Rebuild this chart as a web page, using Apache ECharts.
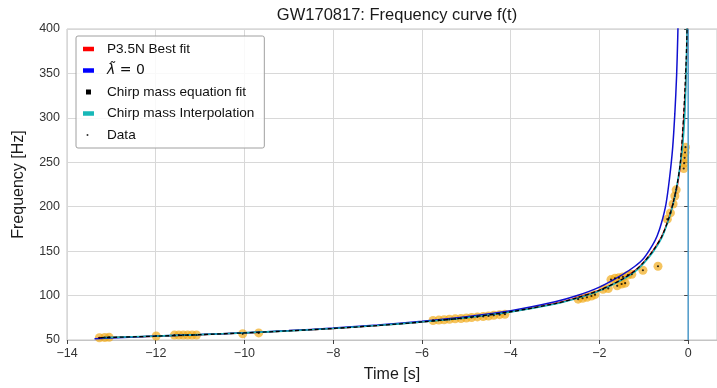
<!DOCTYPE html>
<html>
<head>
<meta charset="utf-8">
<script src="https://cdn.jsdelivr.net/npm/echarts@6/dist/echarts.min.js"></script>
<style>html,body{margin:0;padding:0;background:#fff}#c{width:717px;height:388px}</style>
</head>
<body>
<div id="c"></div>
<script>
// ---- data ----
const xTicks = [-14, -12, -10, -8, -6, -4, -2, 0];
const yTicks = [50, 100, 150, 200, 250, 300, 350, 400];

const bestFitT = [-13.3, -12, -11, -10, -9, -8, -7, -6, -5, -4, -3, -2.5, -2, -1.5, -1.2, -1, -0.8, -0.6, -0.45, -0.35, -0.24, -0.17, -0.12, -0.09, -0.06, -0.035, -0.015, -0.008];
const bestFitF = [52.4, 54.3, 56, 58, 60.3, 63, 66.3, 70.3, 75.2, 81.8, 91, 97.5, 106, 118, 128, 137.6, 150, 166, 185, 202, 225, 250, 280, 305, 335, 365, 400, 420];

const lambdaT = [-13.38, -12, -11, -10, -9, -8, -7, -6, -5, -4, -3, -2.5, -2, -1.5, -1.2, -1, -0.8, -0.7, -0.6, -0.5, -0.42, -0.35, -0.3, -0.26, -0.235, -0.222];
const lambdaF = [51.3, 54.4, 56.2, 58.2, 60.6, 63.4, 66.9, 71.1, 76.2, 83, 93, 100, 109.5, 123, 133, 142, 157, 167, 182, 203, 232, 266, 305, 348, 390, 420];

const chirpFitT = [-13.25, -12, -11, -10, -9, -8, -7, -6, -5, -4, -3, -2.5, -2, -1.5, -1.2, -1, -0.8, -0.6, -0.45, -0.35, -0.25, -0.18, -0.13, -0.1, -0.07, -0.045, -0.025, -0.018];
const chirpFitF = [52.6, 54.3, 56, 58, 60.3, 63, 66.3, 70.3, 75.2, 81.8, 91, 97.5, 106, 118, 128, 137.6, 150, 166, 185, 202, 225, 248, 280, 305, 335, 365, 400, 420];

const interpT = [-13.2, -12, -11, -10, -9, -8, -7, -6, -5, -4, -3, -2.5, -2, -1.5, -1.2, -1, -0.8, -0.6, -0.45, -0.35, -0.27, -0.2, -0.13, -0.08, -0.05, -0.03, -0.02];
const interpF = [52.7, 54.4, 56.1, 58, 60.3, 63, 66.3, 70.2, 75, 81.5, 90.5, 97, 105.5, 117.5, 127, 136.5, 148.5, 164.5, 184, 201, 219, 240, 266, 300, 340, 385, 420];

const dataT = [-13.27, -13.15, -13.05, -11.99, -11.58, -11.48, -11.38, -11.28, -11.18, -11.08, -10.04, -9.68,
  -5.75, -5.62, -5.5, -5.38, -5.25, -5.12, -5.0, -4.88, -4.75, -4.62, -4.5, -4.38, -4.25, -4.13,
  -2.48, -2.38, -2.28, -2.18, -2.1, -1.92, -1.8,
  -1.74, -1.65, -1.56, -1.47, -1.6, -1.5, -1.42, -1.36, -1.27, -1.02, -0.68,
  -0.47, -0.4, -0.34, -0.3, -0.27,
  -0.1, -0.09, -0.08, -0.07, -0.06];
const dataF = [52.5, 52.8, 53, 54.5, 55.5, 55.5, 55.5, 55.5, 55.6, 55.6, 57, 58,
  72, 72.4, 72.8, 73.3, 73.8, 74.2, 74.8, 75.3, 76, 76.5, 77, 77.8, 78.5, 79,
  96, 97, 98, 99.5, 101, 107, 108,
  118, 119.5, 120, 121, 111, 113, 114, 123, 124, 128.5, 133,
  186, 193, 203, 212, 219,
  243, 249, 255, 261, 267];

const zeroLineT = [0, 0];
const zeroLineF = [50, 400];

const zip = (a, b) => a.map((v, i) => [v, b[i]]);
const FONT = 'Liberation Sans';
const minus = v => String(v).replace('-', '\u2212');

// legend icons: a 22x8 box with a smaller visible mark inside
const corners = 'M0,0h0.01v0.01h-0.01z M22,8h0.01v0.01h-0.01z ';
const patchIcon = 'path://' + corners + 'M3,1.7h11v4.6h-11z';
const squareIcon = 'path://' + corners + 'M6,1.6h5v4.8h-5z';
const dotIcon = 'path://' + corners + 'M7.5,4m-1,0a1,1 0 1,0 2,0a1,1 0 1,0 -2,0z';

const chart = echarts.init(document.getElementById('c'), null, {renderer: 'canvas'});
chart.setOption({
  animation: false,
  backgroundColor: '#fff',
  title: {
    text: 'GW170817: Frequency curve f(t)',
    left: 392, top: 2, textAlign: 'center',
    textStyle: {fontFamily: FONT, fontSize: 16.5, fontWeight: 'normal', color: '#1a1a1a'}
  },
  grid: {left: 67, right: 0, top: 29, bottom: 42, show: true, borderColor: '#c4c4c4', borderWidth: 1},
  legend: {
    orient: 'vertical', left: 76, top: 36,
    itemWidth: 22, itemHeight: 8, itemGap: 7.5,
    padding: [6, 10, 6, 4],
    borderColor: '#a0a0a0', borderWidth: 1, borderRadius: 2,
    backgroundColor: 'rgba(255,255,255,0.85)',
    textStyle: {fontFamily: FONT, fontSize: 13.6, color: '#111',
      rich: {i: {fontFamily: 'DejaVu Sans', fontStyle: 'italic', fontSize: 14, color: '#111'},
             n: {fontFamily: 'DejaVu Sans', fontSize: 14, color: '#111'}}},
    formatter: name => name === 'λ̃ = 0' ? '{i|λ̃}{n| = 0}' : name,
    data: [
      {name: 'P3.5N Best fit', icon: patchIcon, itemStyle: {color: '#ff0000', borderWidth: 0}},
      {name: 'λ̃ = 0', icon: patchIcon, itemStyle: {color: '#0000ff', borderWidth: 0}},
      {name: 'Chirp mass equation fit', icon: squareIcon, itemStyle: {color: '#000000', borderWidth: 0}},
      {name: 'Chirp mass Interpolation', icon: patchIcon, itemStyle: {color: '#17b8b8', borderWidth: 0}},
      {name: 'Data', icon: dotIcon, itemStyle: {color: '#000000', borderWidth: 0}}
    ]
  },
  xAxis: {
    type: 'value', min: -14, max: 0.65, interval: 2,
    name: 'Time [s]', nameLocation: 'middle', nameGap: 27,
    nameTextStyle: {fontFamily: FONT, fontSize: 16, color: '#1a1a1a'},
    axisLine: {show: true, onZero: false, lineStyle: {color: '#c4c4c4'}},
    axisTick: {show: true, length: 4, customValues: xTicks, lineStyle: {color: '#444'}},
    axisLabel: {customValues: xTicks, margin: 7, fontFamily: FONT, fontSize: 12.5, color: '#333', formatter: minus},
    splitLine: {show: true, lineStyle: {color: '#d8d8d8', width: 1}}
  },
  yAxis: {
    type: 'value', min: 50, max: 400, interval: 50,
    name: 'Frequency [Hz]', nameLocation: 'middle', nameGap: 40,
    nameTextStyle: {fontFamily: FONT, fontSize: 16, color: '#1a1a1a'},
    axisLine: {show: true, lineStyle: {color: '#c4c4c4'}},
    axisTick: {show: true, length: 4, lineStyle: {color: '#444'}},
    axisLabel: {margin: 7, fontFamily: FONT, fontSize: 12.5, color: '#333'},
    splitLine: {show: true, lineStyle: {color: '#d8d8d8', width: 1}}
  },
  series: [
    {name: 'DataHalo', type: 'scatter', data: zip(dataT, dataF), symbolSize: 9, z: 1,
     itemStyle: {color: 'rgba(240,168,20,0.85)'}, silent: true},
    {name: 'P3.5N Best fit', type: 'line', data: zip(bestFitT, bestFitF), showSymbol: false, smooth: 0.3, z: 2,
     itemStyle: {color: '#ff0000'}, lineStyle: {color: '#ff0000', width: 1.5}},
    {name: 'λ̃ = 0', type: 'line', data: zip(lambdaT, lambdaF), showSymbol: false, smooth: 0.3, z: 2,
     itemStyle: {color: '#1010d0'}, lineStyle: {color: '#1010d0', width: 1.5}},
    {name: 'Chirp mass Interpolation', type: 'line', data: zip(interpT, interpF), showSymbol: false, smooth: 0.3, z: 3,
     itemStyle: {color: '#17b0b8'}, lineStyle: {color: '#17b0b8', width: 1.6}},
    {name: 'Chirp mass equation fit', type: 'line', data: zip(chirpFitT, chirpFitF), showSymbol: false, smooth: 0.3, z: 4,
     itemStyle: {color: '#000'}, lineStyle: {color: '#000', width: 1.3, type: [4, 2.5]}},
    {name: 'ZeroLine', type: 'line', data: zip(zeroLineT, zeroLineF), showSymbol: false, z: 3,
     lineStyle: {color: '#4f9ccc', width: 1.5}, silent: true},
    {name: 'Data', type: 'scatter', data: zip(dataT, dataF), symbolSize: 2.2, z: 5,
     itemStyle: {color: '#000'}}
  ]
});
</script>
</body>
</html>
